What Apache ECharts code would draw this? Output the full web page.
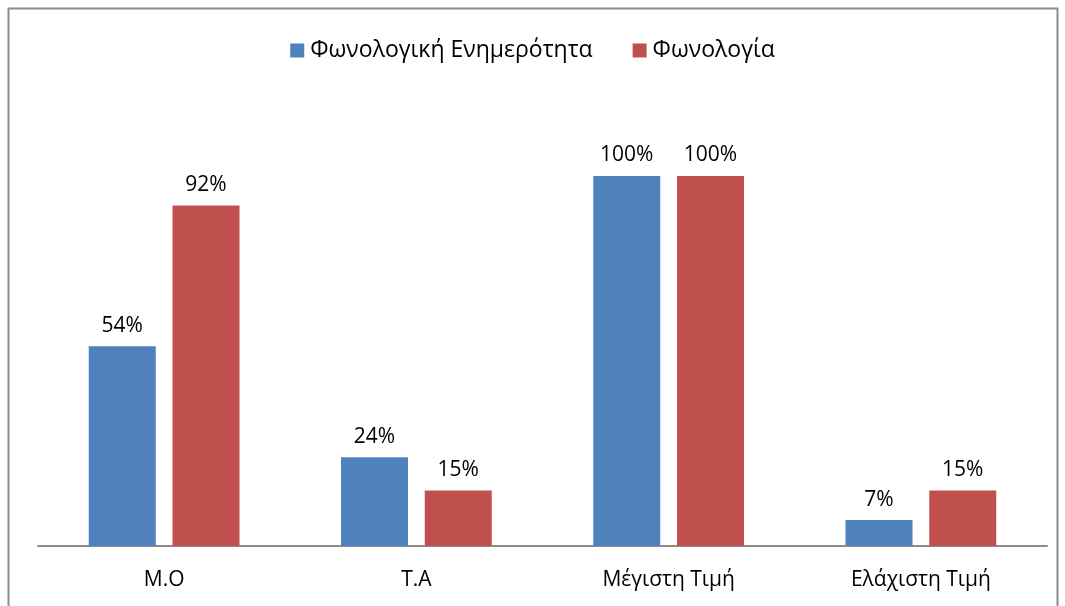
<!DOCTYPE html>
<html>
<head>
<meta charset="utf-8">
<script src="https://cdn.jsdelivr.net/npm/echarts@6/dist/echarts.min.js"></script>
<style>
  html, body { margin: 0; padding: 0; background: #fff; }
  #chart { width: 1065px; height: 606px; }
</style>
</head>
<body>
<div id="chart"></div>
<script>
const categories = ['Μ.Ο', 'Τ.Α', 'Μέγιστη Τιμή', 'Ελάχιστη Τιμή'];
const awareness = [54, 24, 100, 7];
const phonology = [92, 15, 100, 15];
const seriesNames = ['Φωνολογική Ενημερότητα', 'Φωνολογία'];

const font = 'Open Sans';

let chart = echarts.init(document.getElementById('chart'), null, { renderer: 'canvas' });

function barSeries(name, data, color) {
  return {
    name: name,
    type: 'bar',
    data: data,
    barWidth: 67,
    barGap: '25%',
    itemStyle: { color: color },
    label: {
      show: true,
      position: 'top',
      distance: 10,
      formatter: '{c}%',
      color: '#000',
      fontFamily: font,
      fontSize: 21
    }
  };
}

chart.setOption({
  animation: false,
  graphic: [{
    type: 'rect',
    shape: { x: 8.5, y: 8.5, width: 1049, height: 620 },
    style: { fill: 'none', stroke: '#8c8c8c', lineWidth: 2 },
    silent: true
  }],
  legend: {
    top: 34,
    left: 'center',
    itemWidth: 14,
    itemHeight: 14,
    itemGap: 40,
    icon: 'rect',
    textStyle: { fontFamily: font, fontSize: 23, color: '#000', padding: [0, 0, 0, 1] },
    data: seriesNames
  },
  grid: { left: 38, right: 18, top: 176, bottom: 60 },
  xAxis: {
    type: 'category',
    data: categories,
    axisLine: { lineStyle: { color: '#8c8c8c', width: 2 } },
    axisTick: { show: false },
    axisLabel: { margin: 24, fontFamily: font, fontSize: 21, color: '#000' }
  },
  yAxis: {
    type: 'value',
    min: 0,
    max: 100,
    show: false,
    splitLine: { show: false }
  },
  series: [
    barSeries(seriesNames[0], awareness, '#4F81BD'),
    barSeries(seriesNames[1], phonology, '#C0504D')
  ]
});

window.addEventListener('resize', () => {
  chart.resize();
});
</script>
</body>
</html>
